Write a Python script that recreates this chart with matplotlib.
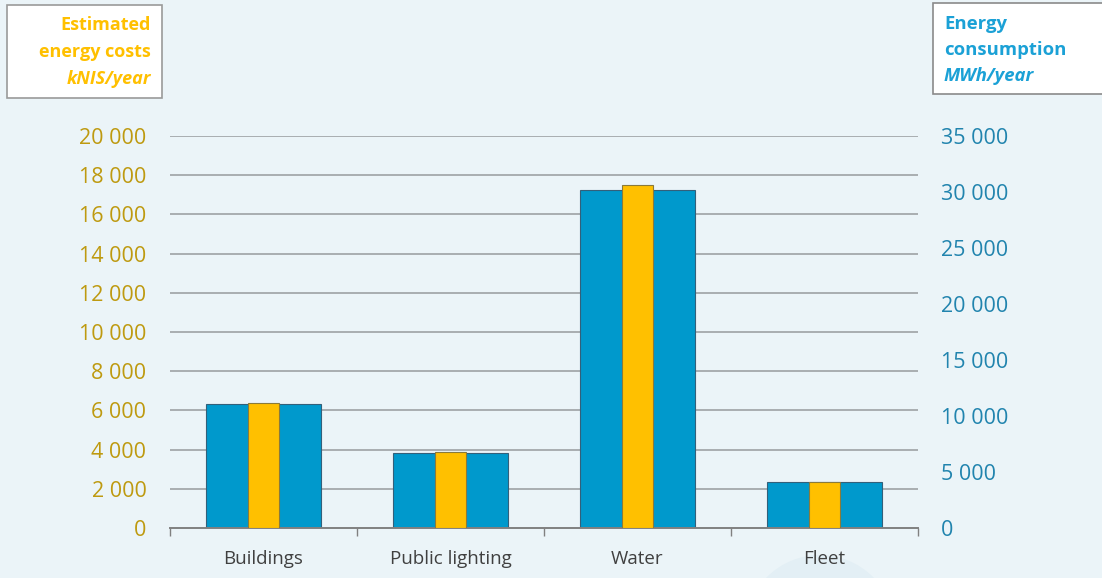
import matplotlib.pyplot as plt
from matplotlib.patches import Rectangle, Ellipse

categories = ["Buildings", "Public lighting", "Water", "Fleet"]
consumption_mwh = [11050, 6700, 30150, 4100]   # right axis
costs_knis = [6380, 3880, 17500, 2350]          # left axis

left_ticks = list(range(0, 20001, 2000))
right_ticks = list(range(0, 35001, 5000))

BG = "#EBF4F8"
BLUE = "#0099CC"
YELLOW = "#FFC000"
GOLD = "#BE9A10"
TEAL = "#2184AE"

plt.rcParams["font.family"] = ["Open Sans", "DejaVu Sans"]

def fmt(v):
    return f"{v:,}".replace(",", " ")

fig = plt.figure(figsize=(11.02, 5.78), dpi=100, facecolor=BG)
ax = fig.add_axes([170 / 1102, 1 - 528 / 578, 748 / 1102, 392 / 578])
ax.set_facecolor("none")
ax2 = ax.twinx()

x = list(range(len(categories)))
ax2.bar(x, consumption_mwh, width=0.62, color=BLUE, edgecolor="#33607A", linewidth=0.8, zorder=2)
ax2.set_ylim(0, 35000)
ax.set_ylim(0, 20000)
ax.set_xlim(-0.5, 3.5)

# yellow bars in front
ax.set_zorder(ax2.get_zorder() + 1)
ax.bar(x, costs_knis, width=0.167, color=YELLOW, edgecolor="#8A7A3A", linewidth=0.8, zorder=3)

# grid lines on the left scale, drawn behind the bars
for t in left_ticks[1:]:
    ax2.axhline(t * 35000 / 20000, color="#A9AEB1", lw=1.4, zorder=1)

ax.set_yticks(left_ticks)
ax.set_yticklabels([fmt(t) for t in left_ticks], color=GOLD, fontsize=15.5)
ax2.set_yticks(right_ticks)
ax2.set_yticklabels([fmt(t) for t in right_ticks], color=TEAL, fontsize=15.5)
ax.tick_params(axis="y", length=0, pad=17)
ax2.tick_params(axis="y", length=0, pad=16.5)

ax.set_xticks(x)
ax.set_xticklabels(categories, fontsize=13.5, color="#404040")
ax.set_xticks([-0.5, 0.5, 1.5, 2.5, 3.5], minor=True)
ax.tick_params(axis="x", which="major", length=0, pad=16)
ax.tick_params(axis="x", which="minor", length=6, color="#808080", width=1)

for a in (ax, ax2):
    for s in ("top", "left", "right"):
        a.spines[s].set_visible(False)
ax2.spines["bottom"].set_visible(False)
ax.spines["bottom"].set_color("#808080")
ax.spines["bottom"].set_linewidth(1.4)

# axis title boxes
fig.patches.append(Rectangle((7 / 1102, 1 - 98 / 578), 155 / 1102, 93 / 578,
                             transform=fig.transFigure, facecolor="white",
                             edgecolor="#9A9A9A", lw=1.2, zorder=0))
fig.patches.append(Rectangle((933 / 1102, 1 - 94 / 578), 175 / 1102, 91 / 578,
                             transform=fig.transFigure, facecolor="white",
                             edgecolor="#8A8A8A", lw=1.2, zorder=0))
fig.patches.append(Ellipse((820 / 1102, 1 - 630 / 578), 150 / 1102, 150 / 578,
                           transform=fig.transFigure, facecolor="#E3EFF5",
                           edgecolor="none", zorder=0))

fig.text(151 / 1102, 1 - 25 / 578, "Estimated", color=YELLOW, fontsize=13,
         fontweight="bold", ha="right", va="center")
fig.text(151 / 1102, 1 - 52 / 578, "energy costs", color=YELLOW, fontsize=13,
         fontweight="bold", ha="right", va="center")
fig.text(151 / 1102, 1 - 79 / 578, "kNIS/year", color=YELLOW, fontsize=13,
         fontweight="bold", style="italic", ha="right", va="center")

fig.text(944 / 1102, 1 - 24 / 578, "Energy", color="#1BA1D6", fontsize=13.3,
         fontweight="bold", ha="left", va="center")
fig.text(944 / 1102, 1 - 50 / 578, "consumption", color="#1BA1D6", fontsize=13.3,
         fontweight="bold", ha="left", va="center")
fig.text(944 / 1102, 1 - 76 / 578, "MWh/year", color="#1BA1D6", fontsize=13.3,
         fontweight="bold", style="italic", ha="left", va="center")

fig.savefig("out.png", dpi=100, facecolor=BG)
